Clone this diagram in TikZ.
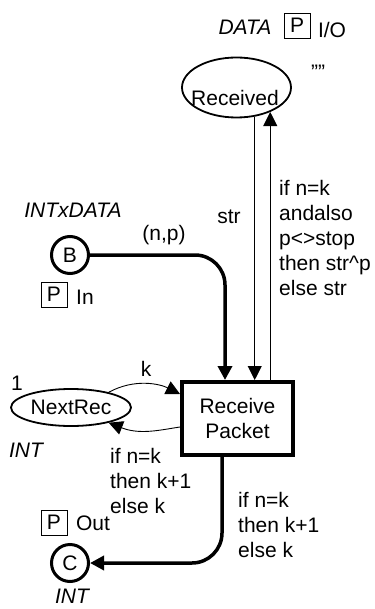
\documentclass[tikz,border=0pt]{standalone}
\usepackage{fontspec}
\setmainfont{Liberation Sans}
\usetikzlibrary{arrows.meta,shapes.geometric,calc}
\begin{document}
\begin{tikzpicture}[x=1pt,y=-1pt,
  every node/.style={font=\fontsize{21}{25}\selectfont, inner sep=0pt},
  tip/.style={-{Triangle[length=14pt,width=14pt]}},
  thickarc/.style={line width=3.5pt, tip, rounded corners=30pt},
  thinarc/.style={line width=0.9pt, tip},
  place/.style={draw, ellipse, line width=1.8pt},
  portplace/.style={draw, circle, line width=3pt, minimum size=37pt},
  trans/.style={draw, rectangle, line width=4pt, minimum width=111pt, minimum height=73pt, align=center},
  pbox/.style={draw, line width=0.8pt, minimum width=26pt, minimum height=25pt},
  lbl/.style={align=left, anchor=north west},
  typ/.style={font=\fontsize{21}{25}\selectfont\itshape}
]
\useasboundingbox (0,0) rectangle (374,609);

% places and transition
\node[place, minimum width=109pt, minimum height=60pt] (rec) at (236.5,87.5) {};
\node (rectext) at (235,98) {Received};
\node[portplace] (B) at (70,255) {B};
\node[portplace] (C) at (70,563) {C};
\node[place, minimum width=120pt, minimum height=37pt] (nr) at (71,407.5) {NextRec};
\node[trans] (T) at (237.5,418.5) {Receive\\Packet};

% inscriptions of Received
\node[typ] (recType) at (245,27) {DATA};
\node[pbox] (recP) at (297,25.5) {P};
\node (recIO) at (332,30) {I/O};
\node (recInit) at (318,72) {\symbol{34}\symbol{34}};

% inscriptions of B
\node[typ] (bType) at (73,210) {INTxDATA};
\node[pbox] (bP) at (54,294.5) {P};
\node (bIn) at (85,297) {In};

% inscriptions of NextRec
\node (nrInit) at (17,383) {1};
\node[typ] (nrType) at (26,450) {INT};

% inscriptions of C
\node[pbox] (cP) at (54,522.5) {P};
\node (cOut) at (93,523) {Out};
\node[typ] (cType) at (72,596) {INT};

% arcs
\draw[thickarc] (B.east) -| ($(T.north)+(-12.5,0)$);
\draw[thickarc] ($(T.south)+(-15.5,0)$) |- (C.east);
\draw[thinarc] (rec.-58) -- (rec.-58 |- T.north);
\draw[thinarc] (rec.-36 |- T.north) -- (rec.-36);
\draw[thinarc] (nr.22) .. controls (135,378) and (160,384) .. ($(T.north west)+(0,14)$);
\draw[thinarc] ($(T.north west)+(0,47)$) .. controls (160,430) and (140,435) .. (nr.-22);

% arc inscriptions
\node (np) at (164,235) {(n,p)};
\node (strl) at (229,217) {str};
\node[lbl] (recExpr) at (279,180) {if n=k\\andalso\\p<>stop\\then str\^{}p\\else str};
\node (kl) at (146,369) {k};
\node[lbl] (nrExpr) at (110,448) {if n=k\\then k+1\\else k};
\node[lbl] (cExpr) at (238,492) {if n=k\\then k+1\\else k};
\end{tikzpicture}
\end{document}
